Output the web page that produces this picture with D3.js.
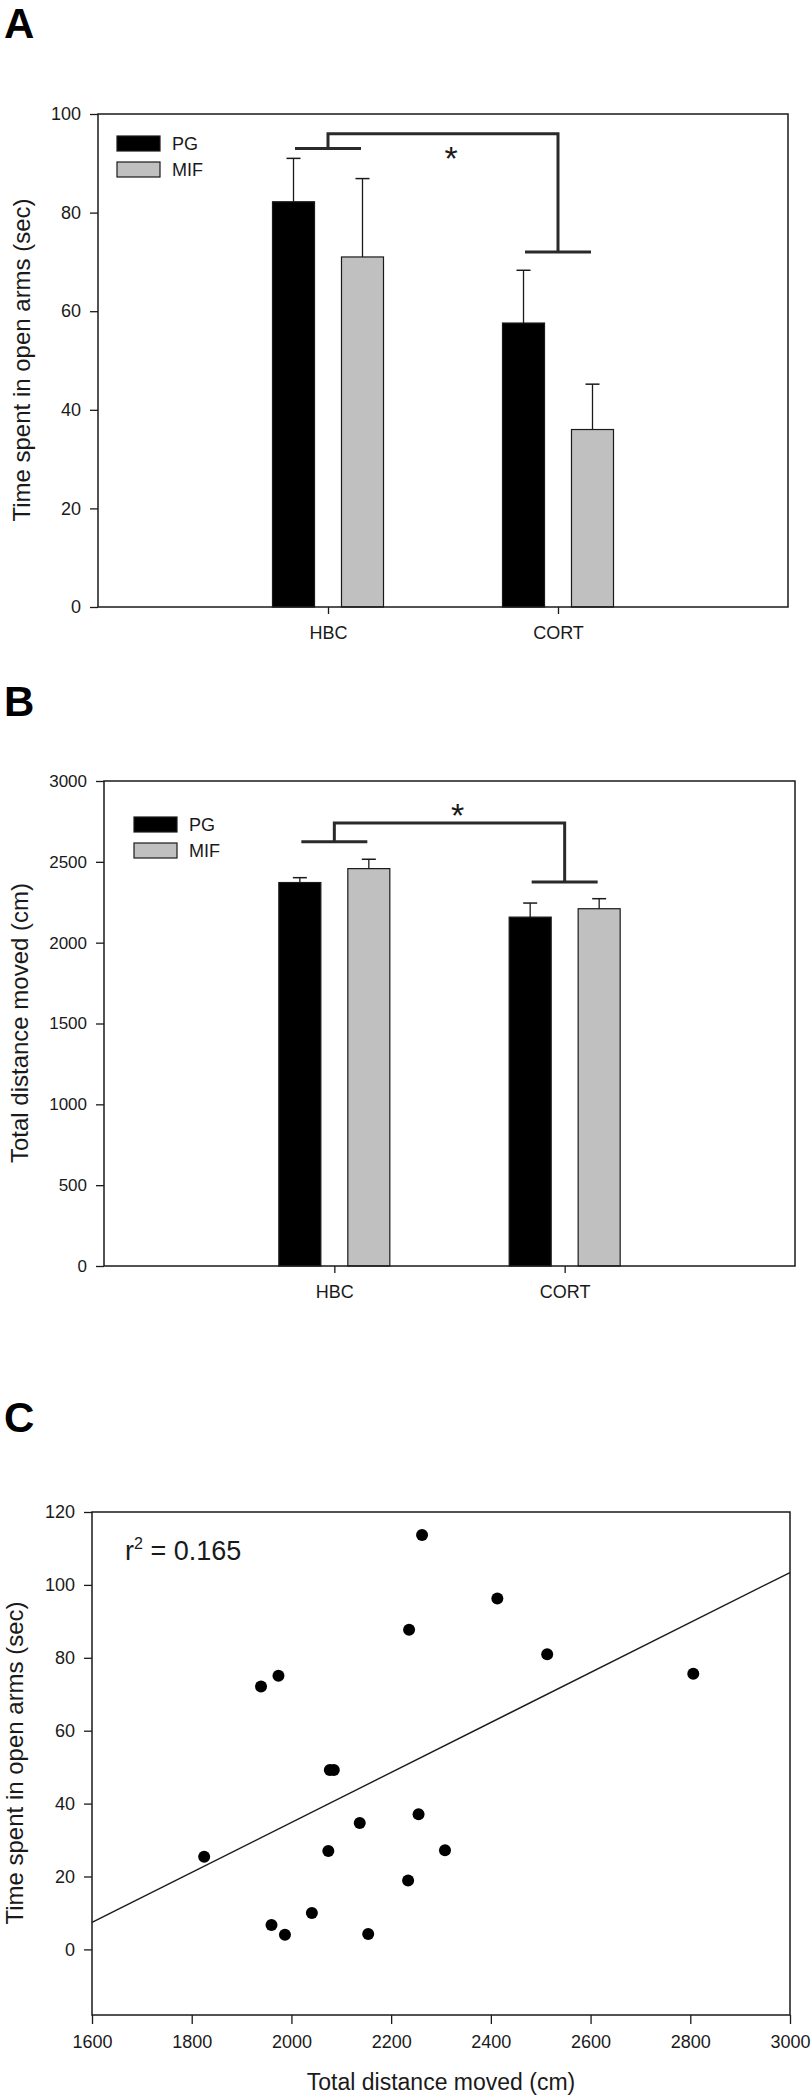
<!DOCTYPE html>
<html>
<head>
<meta charset="utf-8">
<script src="https://cdn.jsdelivr.net/npm/d3@7"></script>
<style>
  body { margin: 0; background: #fff; }
  text { font-family: "Liberation Sans", Arial, sans-serif; fill: #1a1a1a; }
</style>
</head>
<body>
<script>
// groups and series of the two bar panels
var groups = ["HBC", "CORT"];
var series = ["PG", "MIF"];

// A: time spent in open arms (sec), mean and SEM
var openArmPG = [82.2, 57.6];
var openArmMIF = [71.0, 36.0];
var openArmPGErr = [8.8, 10.7];
var openArmMIFErr = [15.9, 9.2];
var ticksA = [0, 20, 40, 60, 80, 100];
var bracketA = [93, 96, 72];   // HBC level, top level, CORT level
var starA = 92.7;

// B: total distance moved (cm)
var distPG = [2372, 2158];
var distMIF = [2458, 2210];
var distPGErr = [30, 87];
var distMIFErr = [58, 62];
var ticksB = [0, 500, 1000, 1500, 2000, 2500, 3000];
var bracketB = [2625, 2740, 2375];
var starB = 2840;

// C: scatter, distance vs open arm time
var distanceMoved = [2262, 2413, 2236, 2513, 2806, 1974, 1939, 2077, 2085, 2255, 2137, 2074, 2308, 1825, 2234, 2041, 1960, 1987, 2154];
var openArmTime  = [113.7, 96.3, 87.7, 81.0, 75.6, 75.1, 72.1, 49.2, 49.2, 37.1, 34.7, 27.0, 27.2, 25.4, 18.9, 10.0, 6.7, 4.0, 4.2];
var fitLine = [[1600, 7.4], [3000, 103.4]];
var ticksCx = [1600, 1800, 2000, 2200, 2400, 2600, 2800, 3000];
var ticksCy = [0, 20, 40, 60, 80, 100, 120];
var rSquared = "0.165";

var colors = { PG: "#000000", MIF: "#c0c0c0" };

var svg = d3.select("body").append("svg")
    .attr("width", 811)
    .attr("height", 2100);
svg.append("rect").attr("width", 811).attr("height", 2100).attr("fill", "#fff");

function styleAxis(ax, size) {
  ax.select(".domain").remove();
  ax.selectAll("line").attr("stroke", "#1a1a1a").attr("stroke-width", 1.3);
  ax.selectAll("text").attr("font-size", size).attr("font-family", "Liberation Sans, Arial, sans-serif").attr("fill", "#1a1a1a");
}

function panelLetter(t, y) {
  svg.append("text").text(t)
    .attr("x", 4).attr("y", y)
    .attr("font-family", "Lato, sans-serif")
    .attr("font-weight", 900)
    .attr("font-size", 42)
    .style("fill", "#000");
}

function yTitle(t, x, cy) {
  svg.append("text").text(t)
    .attr("transform", "translate(" + x + "," + cy + ") rotate(-90)")
    .attr("text-anchor", "middle")
    .attr("font-size", 24);
}

function drawBars(cfg) {
  var g = svg.append("g");
  var x = d3.scalePoint().domain(groups).range([cfg.left, cfg.right]).padding(1);
  var y = d3.scaleLinear().domain([0, cfg.yMax]).range([cfg.bottom, cfg.top]);
  var off = d3.scaleBand().domain(series).range([-55.5, 55.5]).paddingInner(0.391);

  var rows = [];
  groups.forEach(function(grp, i) {
    rows.push({ grp: grp, s: "PG", v: cfg.pg[i], e: cfg.pgErr[i] });
    rows.push({ grp: grp, s: "MIF", v: cfg.mif[i], e: cfg.mifErr[i] });
  });

  // error bars (upper only)
  var err = g.selectAll(".err").data(rows).enter().append("g");
  err.append("line")
    .attr("x1", function(d) { return x(d.grp) + off(d.s) + off.bandwidth() / 2; })
    .attr("x2", function(d) { return x(d.grp) + off(d.s) + off.bandwidth() / 2; })
    .attr("y1", function(d) { return y(d.v); })
    .attr("y2", function(d) { return y(d.v + d.e); })
    .attr("stroke", "#1a1a1a").attr("stroke-width", 1.3);
  err.append("line")
    .attr("x1", function(d) { return x(d.grp) + off(d.s) + off.bandwidth() / 2 - 7; })
    .attr("x2", function(d) { return x(d.grp) + off(d.s) + off.bandwidth() / 2 + 7; })
    .attr("y1", function(d) { return y(d.v + d.e); })
    .attr("y2", function(d) { return y(d.v + d.e); })
    .attr("stroke", "#1a1a1a").attr("stroke-width", 1.5);

  g.selectAll(".bar").data(rows).enter().append("rect")
    .attr("x", function(d) { return x(d.grp) + off(d.s); })
    .attr("y", function(d) { return y(d.v); })
    .attr("width", off.bandwidth())
    .attr("height", function(d) { return y(0) - y(d.v); })
    .attr("fill", function(d) { return colors[d.s]; })
    .attr("stroke", "#1a1a1a").attr("stroke-width", 1.2);

  var ya = g.append("g").attr("transform", "translate(" + cfg.left + ",0)")
    .call(d3.axisLeft(y).tickValues(cfg.yTicks).tickSize(8).tickPadding(9).tickFormat(d3.format("d")));
  styleAxis(ya, cfg.tickSize);
  var xa = g.append("g").attr("transform", "translate(0," + cfg.bottom + ")")
    .call(d3.axisBottom(x).tickSize(7).tickPadding(12));
  styleAxis(xa, 18);

  g.append("rect")
    .attr("x", cfg.left).attr("y", cfg.top)
    .attr("width", cfg.right - cfg.left).attr("height", cfg.bottom - cfg.top)
    .attr("fill", "none").attr("stroke", "#1a1a1a").attr("stroke-width", 1.5);

  // legend
  series.forEach(function(s, i) {
    g.append("rect")
      .attr("x", cfg.left + cfg.legX).attr("y", cfg.top + cfg.legY + i * 26)
      .attr("width", 43).attr("height", 15)
      .attr("fill", colors[s]).attr("stroke", "#1a1a1a").attr("stroke-width", 1.2);
    g.append("text").text(s)
      .attr("x", cfg.left + cfg.legX + 55).attr("y", cfg.top + cfg.legY + i * 26 + 14)
      .attr("font-size", 18);
  });

  // significance bracket
  var b = cfg.bracket;
  var xh = x("HBC"), xc = x("CORT");
  g.append("path")
    .attr("d", "M" + (xh - 33) + "," + y(b[0]) + "H" + (xh + 33) +
               "M" + xh + "," + y(b[0]) + "V" + y(b[1]) + "H" + xc + "V" + y(b[2]) +
               "M" + (xc - 33) + "," + y(b[2]) + "H" + (xc + 33))
    .attr("fill", "none").attr("stroke", "#2a2a2a").attr("stroke-width", 3);
  g.append("text").text("*")
    .attr("x", (xh + xc) / 2 + 8).attr("y", y(cfg.star) + 20)
    .attr("text-anchor", "middle")
    .attr("font-family", "DejaVu Sans, sans-serif")
    .attr("font-size", 34);
}

// ---- Panel A
panelLetter("A", 38);
drawBars({ left: 98, right: 788, top: 114, bottom: 607, yMax: 100, yTicks: ticksA,
  pg: openArmPG, mif: openArmMIF, pgErr: openArmPGErr, mifErr: openArmMIFErr,
  bracket: bracketA, star: starA, legX: 19, legY: 22, tickSize: 18 });
yTitle("Time spent in open arms (sec)", 30, 360);

// ---- Panel B
panelLetter("B", 716);
drawBars({ left: 104, right: 795, top: 781, bottom: 1266, yMax: 3000, yTicks: ticksB,
  pg: distPG, mif: distMIF, pgErr: distPGErr, mifErr: distMIFErr,
  bracket: bracketB, star: starB, legX: 30, legY: 36, tickSize: 17 });
yTitle("Total distance moved (cm)", 28, 1023);

// ---- Panel C
panelLetter("C", 1432);
var cl = 92, cr = 790, ct = 1512, cb = 2015;
var xC = d3.scaleLinear().domain([1600, 3000]).range([cl, cr]);
var yC = d3.scaleLinear().domain([-18, 120]).range([cb, ct]);
var gC = svg.append("g");

var yaC = gC.append("g").attr("transform", "translate(" + cl + ",0)")
  .call(d3.axisLeft(yC).tickValues(ticksCy).tickSize(8).tickPadding(9));
styleAxis(yaC, 18);
var xaC = gC.append("g").attr("transform", "translate(0," + cb + ")")
  .call(d3.axisBottom(xC).tickValues(ticksCx).tickSize(9).tickPadding(11).tickFormat(d3.format("d")));
styleAxis(xaC, 18);

gC.append("path")
  .datum(fitLine)
  .attr("d", d3.line().x(function(d) { return xC(d[0]); }).y(function(d) { return yC(d[1]); }))
  .attr("stroke", "#1a1a1a").attr("stroke-width", 1.4).attr("fill", "none");

gC.selectAll("circle").data(distanceMoved).enter().append("circle")
  .attr("cx", function(d) { return xC(d); })
  .attr("cy", function(d, i) { return yC(openArmTime[i]); })
  .attr("r", 6)
  .attr("fill", "#000");

gC.append("rect")
  .attr("x", cl).attr("y", ct).attr("width", cr - cl).attr("height", cb - ct)
  .attr("fill", "none").attr("stroke", "#1a1a1a").attr("stroke-width", 1.5);

var rt = gC.append("text")
  .attr("x", 125).attr("y", 1560)
  .attr("font-family", "Lato, sans-serif")
  .attr("font-size", 27);
rt.append("tspan").text("r");
rt.append("tspan").text("2").attr("font-size", 16).attr("dy", -11);
rt.append("tspan").text(" = " + rSquared).attr("dy", 11);

yTitle("Time spent in open arms (sec)", 23, 1763);
svg.append("text").text("Total distance moved (cm)")
  .attr("x", (cl + cr) / 2).attr("y", 2090)
  .attr("text-anchor", "middle")
  .attr("font-size", 23);
</script>
</body>
</html>
